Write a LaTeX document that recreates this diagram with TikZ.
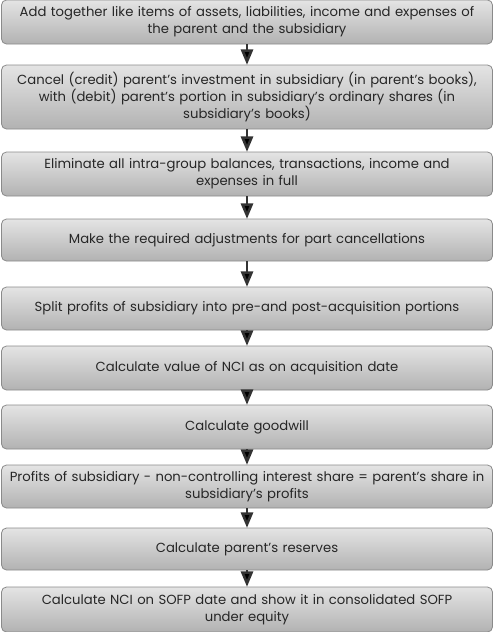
\documentclass[tikz,border=0pt]{standalone}
\usepackage{fontspec}
\setmainfont{Poppins}
\usetikzlibrary{arrows,calc}

\definecolor{boxtop}{HTML}{E4E4E4}
\definecolor{boxbot}{HTML}{B2B2B2}
\definecolor{boxline}{HTML}{8A8A8A}
\definecolor{arrowcol}{HTML}{333333}

\begin{document}
\begin{tikzpicture}[x=1pt,y=1pt,->,>=triangle 45,
  step node/.style={rectangle,rounded corners=5pt,draw=boxline,line width=0.8pt,
    top color=boxtop,bottom color=boxbot,minimum width=491pt,text width=476pt,
    align=center,inner sep=0pt,text=black!85,font=\fontsize{13.2}{17}\selectfont}]

\useasboundingbox (0,0) rectangle (494,-632);

\node[step node,minimum height=44pt](S1) at (247,-22) {Add together like items of assets, liabilities, income and expenses of\\ the parent and the subsidiary};
\node[step node,minimum height=64pt](S2) at (247,-97) {Cancel (credit) parent's investment in subsidiary (in parent's books),\\ with (debit) parent's portion in subsidiary's ordinary shares (in\\ subsidiary's books)};
\node[step node,minimum height=44pt](S3) at (247,-174) {Eliminate all intra-group balances, transactions, income and\\ expenses in full};
\node[step node,minimum height=42pt](S4) at (247,-240) {Make the required adjustments for part cancellations};
\node[step node,minimum height=43pt](S5) at (247,-308.5) {Split profits of subsidiary into pre-and post-acquisition portions};
\node[step node,minimum height=44pt](S6) at (247,-368) {Calculate value of NCI as on acquisition date};
\node[step node,minimum height=44pt](S7) at (247,-427) {Calculate goodwill};
\node[step node,minimum height=43pt](S8) at (247,-486.5) {Profits of subsidiary - non-controlling interest share = parent's share in\\ subsidiary's profits};
\node[step node,minimum height=42pt](S9) at (247,-549) {Calculate parent's reserves};
\node[step node,minimum height=45pt](S10) at (247,-609.5) {Calculate NCI on SOFP date and show it in consolidated SOFP\\ under equity};

\path[draw=arrowcol,line width=2.6pt]
(S1) edge (S2)
(S2) edge (S3)
(S3) edge (S4)
(S4) edge (S5)
(S5) edge (S6)
(S6) edge (S7)
(S7) edge (S8)
(S8) edge (S9)
(S9) edge (S10);

\end{tikzpicture}
\end{document}
